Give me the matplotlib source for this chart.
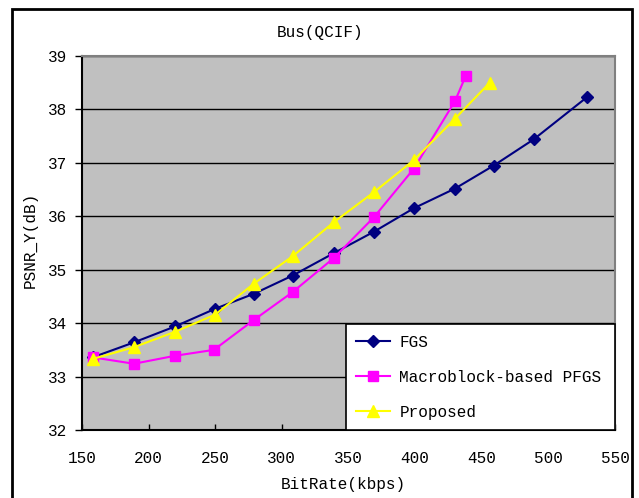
import matplotlib
matplotlib.use("Agg")
import matplotlib.pyplot as plt
from matplotlib.patches import Rectangle

plt.rcParams['font.family'] = ['Liberation Mono', 'DejaVu Sans']

fgs_x = [158, 189, 220, 250, 279, 308, 339, 369, 399, 430, 459, 489, 529]
fgs_y = [33.36, 33.64, 33.94, 34.27, 34.55, 34.89, 35.31, 35.71, 36.15, 36.52, 36.95, 37.44, 38.23]
pfgs_x = [158, 189, 220, 249, 279, 308, 339, 369, 399, 430, 438]
pfgs_y = [33.36, 33.24, 33.39, 33.50, 34.06, 34.58, 35.22, 35.98, 36.89, 38.16, 38.63]
prop_x = [158, 189, 220, 250, 279, 308, 339, 369, 399, 430, 456]
prop_y = [33.33, 33.55, 33.84, 34.16, 34.74, 35.25, 35.89, 36.45, 37.05, 37.83, 38.50]

labels = ['FGS', 'Macroblock-based PFGS', 'Proposed']
x_ticks = [150, 200, 250, 300, 350, 400, 450, 500, 550]
y_ticks = [32, 33, 34, 35, 36, 37, 38, 39]

W, H = 639, 498
fig = plt.figure(figsize=(W / 100, H / 100), dpi=100)
L, R, T, B = 82, 615, 56, 430
ax = fig.add_axes([L / W, 1 - B / H, (R - L) / W, (B - T) / H])
ax.set_facecolor('#C0C0C0')

ax.plot(fgs_x, fgs_y, color='#000080', lw=1.5, marker='D', ms=6,
        markerfacecolor='#000080', markeredgecolor='#000080', label=labels[0], zorder=3)
ax.plot(pfgs_x, pfgs_y, color='#FF00FF', lw=1.5, marker='s', ms=7,
        markerfacecolor='#FF00FF', markeredgecolor='#FF00FF', label=labels[1], zorder=3)
ax.plot(prop_x, prop_y, color='#FFFF00', lw=1.5, marker='^', ms=9,
        markerfacecolor='#FFFF00', markeredgecolor='#FFFF00', label=labels[2], zorder=3)

ax.set_xlim(150, 550)
ax.set_ylim(32, 39)
ax.set_xticks(x_ticks)
ax.set_yticks(y_ticks)
ax.grid(axis='y', color='black', lw=1.0)
ax.set_axisbelow(True)
ax.tick_params(axis='x', direction='in', length=4, width=1, labelsize=11.5, pad=15)
ax.tick_params(axis='y', direction='out', length=5, width=1, labelsize=11.5, pad=6)
for s in ['left', 'bottom']:
    ax.spines[s].set_color('black')
    ax.spines[s].set_linewidth(1.5)
for s in ['top', 'right']:
    ax.spines[s].set_color('#808080')
    ax.spines[s].set_linewidth(1.5)

leg = ax.legend(loc='lower left', bbox_to_anchor=(0.495, 0.0, 0.505, 0.286), mode='expand',
                fontsize=11.5, frameon=True, fancybox=False, framealpha=1,
                edgecolor='black', borderaxespad=0, handlelength=2.1,
                labelspacing=1.25, borderpad=0.65, handletextpad=0.6)
leg.get_frame().set_linewidth(1.2)
leg.set_zorder(5)

fig.text(320 / W, 1 - 33 / H, 'Bus(QCIF)', ha='center', va='center', fontsize=11.5)
fig.text(30 / W, 1 - 240 / H, 'PSNR_Y(dB)', ha='center', va='center', rotation=90, fontsize=11.5)
fig.text(343 / W, 1 - 484 / H, 'BitRate(kbps)', ha='center', va='center', fontsize=11.5)

fig.patches.append(Rectangle((12 / W, -0.02), (632 - 12) / W, 1.02 - 9 / H,
                             transform=fig.transFigure, fill=False, lw=2, edgecolor='black'))

fig.savefig('out.png', dpi=100)
